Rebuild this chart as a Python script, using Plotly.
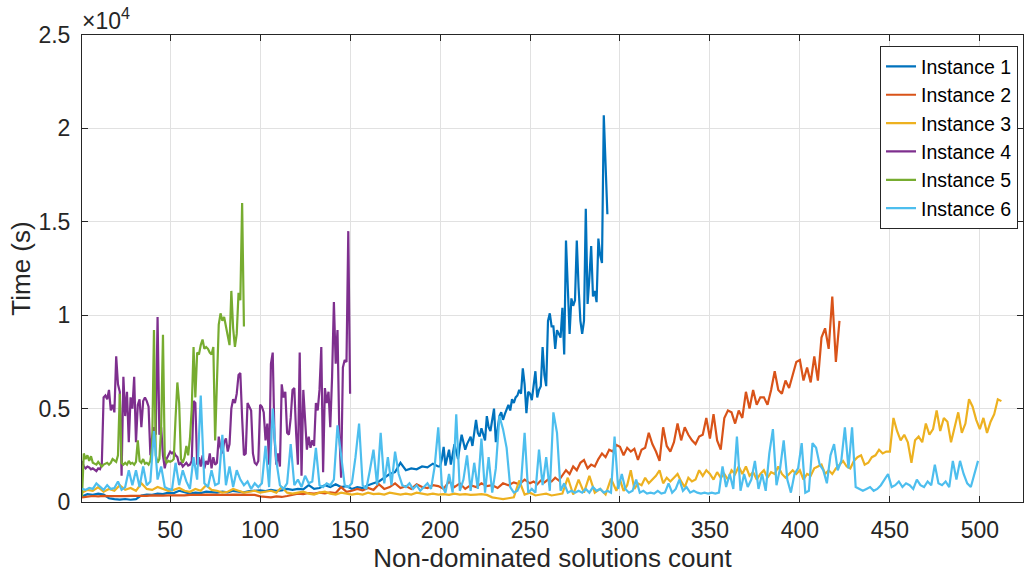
import plotly.graph_objects as go

# ---------------- data ----------------
# Instance 1: x = 1..199 step 3, then 200.. step 1
inst1_a = [300, 420, 380, 450, 400, 200, 150, 130, 160, 120,
           150, 350, 400, 380, 450, 420, 500, 480, 600, 520,
           450, 500, 480, 550, 520, 500, 560, 520, 600, 550,
           520, 580, 600, 620, 580, 650, 600, 620, 700, 650,
           700, 680, 900, 700, 750, 900, 800, 950, 800, 850,
           700, 800, 750, 900, 1000, 1100, 1300, 1500, 1600, 2100,
           1700, 1800, 1750, 1900, 1850, 2050, 1900]
inst1_b = [1900, 2300, 2950, 1950, 2400, 2800, 2000, 2500, 3100, 2700,
           2300, 3000, 3600, 3200, 2800, 3100, 3300, 3500, 3000, 3800,
           4400, 3700, 3500, 3950, 3600, 3300, 4600, 4000, 3800, 4300,
           5000, 3200, 3900, 4600, 4800, 4400, 4700, 5000, 5200, 4900,
           5500, 5300, 5600, 5700, 6000, 5800, 7150, 6300, 4750, 5900,
           5800, 5450, 6200, 7000, 5600, 6000, 6200, 8300, 6800, 6200,
           9700, 10100, 9400, 9400, 8200, 9200, 9000, 8800, 10400, 7900,
           14000, 11000, 9000, 10900, 10500, 10800, 14000, 11500, 9700, 9000,
           9700, 15700, 10600, 12000, 13700, 11000, 11300, 10700, 14100, 13200,
           12800, 20700, 18000, 15400]

# Instance 2: x = 1..247 step 3, then 250.. step 2
inst2_a = [250, 300, 320, 300, 330, 310, 300, 320, 310, 330,
           320, 340, 330, 350, 330, 340, 360, 350, 370, 360,
           380, 370, 380, 390, 380, 400, 390, 380, 400, 390,
           410, 400, 380, 300, 280, 250, 300, 270, 320, 400,
           450, 420, 480, 450, 500, 460, 520, 480, 800, 550,
           600, 700, 620, 750, 650, 950, 700, 800, 1000, 750,
           850, 700, 950, 800, 750, 900, 850, 700, 1100, 800,
           1000, 700, 900, 800, 1000, 850, 900, 750, 1000, 900,
           1050, 950, 1200]
inst2_b = [1000, 1100, 950, 1150, 1050, 1200, 1100, 1300, 1150, 1400,
           1700, 1500, 1900, 1700, 2100, 2250, 1800, 2000, 1900, 2300,
           2600, 2400, 2800, 2700, 3050, 2950, 2500, 2900, 2700, 2850,
           2250, 2800, 2900, 3700, 3100, 2700, 2200, 4000, 3000, 2700,
           3200, 4200, 3300, 4000, 3600, 3300, 3100, 3500, 3600, 4500,
           3400, 4700, 3300, 2800, 4500, 4900, 4800, 4200, 4900, 4500,
           5900, 5000, 6000, 5200, 5600, 5600, 5200, 6000, 7000, 6000,
           5800, 6500, 6100, 6800, 7500, 7600, 6500, 7200, 6400, 7800,
           6500, 8800, 9300, 8200, 11000, 7500, 9700]

# Instance 3: x = 1..298 step 3, then 300.. step 2
inst3_a = [500, 650, 600, 800, 550, 700, 600, 900, 650, 750,
           600, 1000, 700, 650, 800, 700, 600, 650, 750, 600,
           550, 700, 600, 900, 650, 600, 500, 550, 700, 600,
           500, 550, 600, 500, 550, 600, 500, 800, 500, 450,
           500, 550, 450, 400, 500, 550, 450, 400, 500, 450,
           400, 450, 400, 500, 420, 450, 400, 500, 450, 400,
           450, 400, 500, 450, 400, 450, 400, 420, 380, 450,
           400, 420, 380, 400, 420, 380, 250, 200, 150, 200,
           250, 1150, 400, 500, 350, 400, 450, 350, 400, 450,
           1300, 400, 1200, 500, 1400, 500, 700, 400, 1250, 600]
inst3_b = [1200, 600, 900, 1700, 700, 1000, 900, 1300, 1000, 1200,
           1400, 1700, 1000, 1300, 1100, 1300, 1500, 1100, 800, 1300,
           1100, 1200, 1700, 1400, 1700, 1500, 1200, 1600, 1300, 1500,
           1200, 1700, 1500, 1900, 1500, 1900, 1400, 1600, 1200, 1500,
           1700, 1300, 1600, 1500, 1900, 1500, 1300, 1500, 1700, 1500,
           1700, 1200, 1500, 1400, 1800, 1900, 2000, 1500, 1700, 1500,
           1800, 2000, 2200, 1900, 1800, 2200, 2400, 2500, 2000, 2100,
           2400, 2500, 2800, 2600, 2700, 2700, 4500, 3800, 3300, 3600,
           3200, 2100, 3300, 3500, 3200, 4200, 3600, 3900, 4900, 3800,
           4500, 4300, 3200, 4000, 4800, 3700, 4200, 5500, 5100, 4400,
           3900, 4500, 3700, 4300, 4700, 5500, 5400]

# Instance 4: x = 1.. step 1
inst4 = [2200, 1900, 1800, 1900, 1850, 1750, 1800, 1700, 1650, 1800,
         1750, 2000, 5600, 5700, 5500, 6000, 4900, 5200, 4800, 7800,
         6300, 5900, 1400, 6700, 4600, 5900, 3200, 5600, 5000, 6700,
         3200, 5200, 5500, 4000, 5400, 5600, 5400, 5100, 2500, 3500,
         4000, 3600, 9900, 3600, 4000, 2500, 1800, 2300, 2500, 2700,
         2600, 2700, 2500, 2400, 2000, 2100, 1900, 2000, 2100, 1950,
         2000, 2200, 5400, 5300, 2000, 2400, 1900, 2500, 1800, 2200,
         2000, 2600, 1800, 2400, 2000, 2100, 3500, 2900, 2600, 3200,
         3400, 2700, 3100, 5000, 5500, 5300, 5800, 6800, 6900, 4500,
         2500, 2600, 5300, 5100, 4900, 2600, 2100, 2000, 2200, 5200,
         5100, 4800, 3300, 4200, 2000, 7400, 8000, 3400, 2000, 2600,
         1900, 6300, 5600, 5900, 3700, 3600, 4500, 6000, 6100, 3700,
         2000, 8000, 1400, 6000, 4500, 2800, 3500, 2900, 3300, 3000,
         5300, 4900, 6000, 8300, 1600, 6100, 5300, 5900, 4000, 6700,
         10700, 7400, 9200, 3800, 1300, 7200, 7600, 7500, 14500, 5800]

# Instance 5: x = 1.. step 1
inst5 = [300, 2600, 2300, 2500, 2200, 2450, 2100, 2050, 2000, 2150,
         2050, 1900, 2000, 2050, 2100, 2000, 2100, 2300, 2200, 2150,
         2500, 5800, 2100, 2000, 2100, 2000, 2200, 2050, 2100, 2000,
         2150, 3300, 2200, 2100, 2300, 2050, 2100, 2000, 2200, 3000,
         9200, 2500, 2100, 2300, 4000, 8950, 2400, 2100, 2200, 2150,
         2200, 2300, 4500, 6400, 5300, 2300, 2100, 2400, 3000, 2500,
         3400, 5000, 8300, 5600, 8000, 7900, 8400, 8700, 8200, 8300,
         8200, 8000, 7900, 8300, 3300, 6500, 9500, 10100, 9700, 9900,
         9300, 8900, 8400, 11300, 9300, 8300, 9000, 11200, 10800, 16000,
         9400]

# Instance 6: x = 1.. step 2
inst6 = [700, 650, 750, 700, 1000, 800, 650, 900, 700, 750,
         1100, 650, 800, 1700, 900, 1700, 800, 1900, 900, 1100,
         3800, 1200, 1900, 800, 700, 650, 2100, 900, 1700, 1100,
         700, 2400, 1200, 5700, 1000, 800, 1700, 900, 1000, 3600,
         900, 1900, 800, 1700, 1200, 900, 1100, 700, 1000, 800,
         1000, 3000, 800, 5000, 2200, 900, 700, 1000, 3100, 900,
         1200, 800, 1400, 1000, 1100, 2900, 900, 800, 1000, 900,
         1200, 4100, 2400, 900, 800, 1000, 2400, 4200, 900, 700,
         1700, 2800, 900, 3700, 1000, 2400, 900, 2700, 1500, 900,
         800, 1000, 700, 900, 600, 800, 1000, 700, 1900, 4000,
         900, 500, 1500, 500, 4700, 600, 1200, 2500, 600, 2100,
         700, 3400, 500, 2400, 500, 1800, 4600, 3900, 2900, 800,
         500, 600, 1000, 3700, 500, 700, 500, 2800, 900, 2400,
         600, 4800, 3700, 600, 1000, 500, 600, 500, 600, 500,
         700, 500, 800, 600, 700, 500, 600, 500, 3500, 700,
         1500, 700, 500, 600, 1200, 500, 600, 450, 500, 450,
         600, 450, 500, 1000, 500, 700, 1200, 600, 800, 500,
         600, 500, 450, 500, 450, 500, 450, 500, 1900, 800,
         1500, 700, 3500, 600, 1500, 800, 1200, 2200, 700, 1500,
         600, 2600, 3900, 900, 1800, 3300, 1200, 500, 1500, 1800,
         3150, 500, 600, 3150, 2900, 2000, 1700, 1000, 2500, 3100,
         1700, 2200, 4000, 1800, 4000, 800, 700, 600, 700, 800,
         600, 700, 900, 1200, 1500, 800, 900, 1100, 800, 1000,
         900, 700, 1200, 900, 800, 1100, 900, 2000, 1000, 900,
         1100, 800, 2200, 1200, 2200, 1500, 1000, 800, 1500, 2200]

names = ["Instance 1", "Instance 2", "Instance 3", "Instance 4", "Instance 5", "Instance 6"]
colors = ["#0072BD", "#D95319", "#EDB120", "#7E2F8E", "#77AC30", "#4DBEEE"]

x_ticks = [50, 100, 150, 200, 250, 300, 350, 400, 450, 500]
y_ticks = [0, 5000, 10000, 15000, 20000, 25000]
y_tick_text = ["0", "0.5", "1", "1.5", "2", "2.5"]


def xs(start, step, n):
    return list(range(start, start + step * n, step))


series = [
    (xs(1, 3, len(inst1_a)) + xs(200, 1, len(inst1_b)), inst1_a + inst1_b),
    (xs(1, 3, len(inst2_a)) + xs(250, 2, len(inst2_b)), inst2_a + inst2_b),
    (xs(1, 3, len(inst3_a)) + xs(300, 2, len(inst3_b)), inst3_a + inst3_b),
    (xs(1, 1, len(inst4)), inst4),
    (xs(1, 1, len(inst5)), inst5),
    (xs(1, 2, len(inst6)), inst6),
]

FONT = "Liberation Sans, Arial, Helvetica, sans-serif"
AX = "#262626"

fig = go.Figure()
for (x, y), name, c in zip(series, names, colors):
    fig.add_trace(go.Scatter(x=x, y=y, mode="lines", name=name,
                             line=dict(color=c, width=2.2)))

fig.update_layout(
    width=1028, height=576,
    margin=dict(l=82, r=5, t=35, b=74),
    paper_bgcolor="white", plot_bgcolor="white",
    font=dict(family=FONT, color=AX, size=22),
    showlegend=True,
    legend=dict(x=0.9947, y=0.976, xanchor="right", yanchor="top",
                bgcolor="white", bordercolor=AX, borderwidth=1,
                font=dict(size=19.5, color="#000000"),
                itemwidth=30, tracegroupgap=0),
    xaxis=dict(range=[1, 524], tickvals=x_ticks, ticks="inside", ticklen=6,
               tickcolor=AX, showline=True, linecolor=AX, linewidth=1, mirror="ticks",
               showgrid=True, gridcolor="#e1e1e1", gridwidth=1, zeroline=False,
               automargin=False,
               tickfont=dict(size=23, color=AX), ticklabelstandoff=7,
               title=dict(text="Non-dominated solutions count", font=dict(size=26, color=AX),
                          standoff=6)),
    yaxis=dict(range=[0, 25000], tickvals=y_ticks, ticktext=y_tick_text, ticks="inside",
               ticklen=6, tickcolor=AX, showline=True, linecolor=AX, linewidth=1,
               mirror="ticks", showgrid=True, gridcolor="#e1e1e1", gridwidth=1,
               zeroline=False, automargin=False,
               tickfont=dict(size=23, color=AX), ticklabelstandoff=6,
               title=dict(text="Time (s)", font=dict(size=26, color=AX), standoff=0)),
    annotations=[dict(text="×10<sup>4</sup>", xref="paper", yref="paper", x=0, y=1,
                      xanchor="left", yanchor="bottom", showarrow=False,
                      font=dict(size=23, color=AX), xshift=-2, yshift=-1)],
)

fig.write_html("out.html", config={"displayModeBar": False},
               post_script="document.body.style.margin='0';document.body.style.overflow='hidden';")
